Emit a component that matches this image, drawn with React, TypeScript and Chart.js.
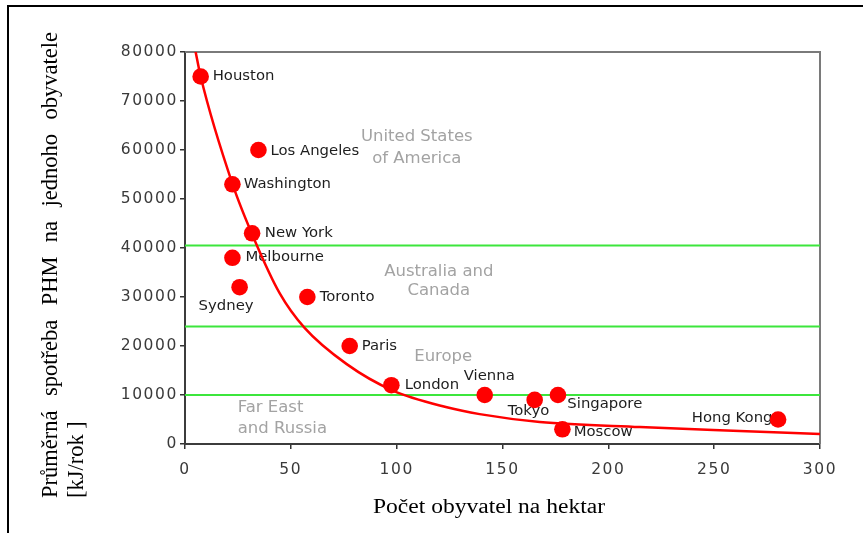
import React, { useEffect, useRef } from "react";
import { Chart, registerables } from "chart.js";

Chart.register(...registerables);

// ---- data ----
const CITIES = [
  "Houston", "Los Angeles", "Washington", "New York", "Melbourne", "Sydney", "Toronto",
  "Paris", "London", "Vienna", "Tokyo", "Singapore", "Moscow", "Hong Kong",
];
const DENSITY = [7.4, 34.7, 22.4, 31.7, 22.4, 25.8, 57.8, 77.8, 97.5, 141.6, 165.2, 176.2, 178.3, 280.2];
const ENERGY = [75000, 60000, 53000, 43000, 38000, 32000, 30000, 20000, 12000, 10000, 9000, 10000, 3000, 5000];

const CURVE_X = [4.8, 7.4, 22.5, 32.9, 44.7, 56.5, 76.4, 98.2, 123.7, 139.2, 167.6, 214.9, 262.1, 300];
const CURVE_Y = [80500, 75000, 53000, 41600, 30800, 23700, 16300, 10900, 7500, 6100, 4500, 3450, 2650, 2040];

const BAND_LIMITS = [40500, 24000, 10000];

const X_MIN = 0, X_MAX = 300, X_STEP = 50;
const Y_MIN = 0, Y_MAX = 80000, Y_STEP = 10000;

const REGIONS = [
  ["United States", "of America"],
  ["Australia and", "Canada"],
  ["Europe"],
  ["Far East", "and Russia"],
];
const REGION_X = [109.5, 119.9, 122.0, 24.9];
const REGION_Y = [62650, 35160, 17750, 7350];

const Y_TITLE_WORDS = ["Průměrná", "spotřeba", "PHM", "na", "jednoho", "obyvatele"];
const Y_TITLE_UNIT = "[kJ/rok ]";
const X_TITLE = "Počet obyvatel na hektar";

// ---- label placement (styling) ----
const LABEL_OFFSETS: [number, number, CanvasTextAlign][] = [
  [12, 0, "left"], [12, 1, "left"], [11.3, 0, "left"], [12.7, 0, "left"], [13, 0, "left"],
  [-41, 19, "left"], [12.3, 0, "left"], [12, 0, "left"], [13.3, 0, "left"], [-21, -18.3, "left"],
  [-27, 11.7, "left"], [9.4, 9, "left"], [11.3, 2.7, "left"], [-5.6, -1, "right"],
];
const REGION_ALIGN: CanvasTextAlign[] = ["center", "center", "center", "left"];
const REGION_LINE_GAP = [22, 19.5, 0, 21];

const framePlugin = {
  id: "frame",
  beforeDraw(chart: any) {
    chart.ctx.save();
    chart.ctx.letterSpacing = "1.6px";
  },
  beforeDatasetsDraw(chart: any) {
    const ctx: CanvasRenderingContext2D = chart.ctx;
    ctx.restore();
    ctx.save();
    ctx.letterSpacing = "0px";
    const { left, right, top, bottom } = chart.chartArea;
    const xs = chart.scales.x;
    const ys = chart.scales.y;

    // top & right frame
    ctx.strokeStyle = "#7a7a7a";
    ctx.lineWidth = 2;
    ctx.beginPath();
    ctx.moveTo(left, top);
    ctx.lineTo(right, top);
    ctx.lineTo(right, bottom);
    ctx.stroke();

    // region labels
    ctx.font = "16.5px 'DejaVu Sans'";
    ctx.fillStyle = "#a3a3a3";
    ctx.textBaseline = "middle";
    REGIONS.forEach((lines, i) => {
      const px = xs.getPixelForValue(REGION_X[i]);
      const py = ys.getPixelForValue(REGION_Y[i]);
      ctx.textAlign = REGION_ALIGN[i];
      lines.forEach((t, j) => ctx.fillText(t, px, py + j * REGION_LINE_GAP[i]));
    });

    // city labels
    ctx.font = "13.5px 'DejaVu Sans'";
    ctx.fillStyle = "#1e1e1e";
    CITIES.forEach((name, i) => {
      const px = xs.getPixelForValue(DENSITY[i]);
      const py = ys.getPixelForValue(ENERGY[i]);
      const [dx, dy, al] = LABEL_OFFSETS[i];
      ctx.save();
      ctx.translate(px + dx, py + dy);
      ctx.scale(1.1, 1);
      ctx.textAlign = al;
      ctx.fillText(name, 0, 0);
      ctx.restore();
    });

    // axis titles
    ctx.fillStyle = "#000";
    ctx.textAlign = "left";
    ctx.textBaseline = "alphabetic";
    ctx.font = "20px 'Liberation Serif'";
    const xw = ctx.measureText(X_TITLE).width;
    ctx.save();
    ctx.translate(373, 513);
    ctx.scale(232 / xw, 1);
    ctx.fillText(X_TITLE, 0, 0);
    ctx.restore();

    ctx.font = "22.5px 'Liberation Serif'";
    const widths = Y_TITLE_WORDS.map((w) => ctx.measureText(w).width);
    const total = widths.reduce((a, b) => a + b, 0);
    const span = 466;
    const gap = (span - total) / (Y_TITLE_WORDS.length - 1);
    ctx.save();
    ctx.translate(57, 498);
    ctx.rotate(-Math.PI / 2);
    let u = 0;
    Y_TITLE_WORDS.forEach((w, i) => {
      ctx.fillText(w, u, 0);
      u += widths[i] + gap;
    });
    ctx.restore();
    ctx.save();
    ctx.translate(83, 498);
    ctx.rotate(-Math.PI / 2);
    ctx.fillText(Y_TITLE_UNIT, 0, 0);
    ctx.restore();

    ctx.restore();
  },
};

export default function App() {
  const ref = useRef<HTMLCanvasElement | null>(null);

  useEffect(() => {
    if (!ref.current) return;
    const tickFont = { family: "'DejaVu Sans'", size: 15.5 };
    const chart = new Chart(ref.current, {
      type: "scatter",
      data: {
        datasets: [
          {
            label: "cities",
            data: DENSITY.map((x, i) => ({ x, y: ENERGY[i] })),
            pointRadius: 8.3,
            pointBackgroundColor: "#ff0000",
            pointBorderWidth: 0,
            showLine: false,
          } as any,
          {
            label: "trend",
            type: "line",
            data: CURVE_X.map((x, i) => ({ x, y: CURVE_Y[i] })),
            borderColor: "#ff0000",
            borderWidth: 2.5,
            pointRadius: 0,
            cubicInterpolationMode: "monotone",
            fill: false,
          } as any,
          ...BAND_LIMITS.map((v) => ({
            label: "band",
            type: "line",
            data: [{ x: X_MIN, y: v }, { x: X_MAX, y: v }],
            borderColor: "#3ce63c",
            borderWidth: 2,
            pointRadius: 0,
            fill: false,
          } as any)),
        ],
      },
      options: {
        animation: false,
        responsive: false,
        events: [],
        layout: { padding: { left: 0, right: 43, top: 52, bottom: 0 } },
        plugins: { legend: { display: false }, tooltip: { enabled: false } },
        scales: {
          x: {
            type: "linear",
            min: X_MIN,
            max: X_MAX,
            ticks: {
              stepSize: X_STEP,
              color: "#3a3a3a",
              font: tickFont,
              padding: 12,
              maxRotation: 0,
              callback: (v: any) => String(v),
            },
            grid: { drawOnChartArea: false, drawTicks: true, tickLength: 5, color: "#333", lineWidth: 1.5 },
            border: { color: "#3c3c3c", width: 2 },
            afterFit: (s: any) => { s.height = 89; },
          },
          y: {
            type: "linear",
            min: Y_MIN,
            max: Y_MAX,
            ticks: {
              stepSize: Y_STEP,
              color: "#3a3a3a",
              font: tickFont,
              padding: 2,
              callback: (v: any) => String(v),
            },
            grid: { drawOnChartArea: false, drawTicks: true, tickLength: 5, color: "#333", lineWidth: 1.5 },
            border: { color: "#3c3c3c", width: 2 },
            afterFit: (s: any) => { s.width = 185; },
          },
        },
      },
      plugins: [framePlugin],
    });
    return () => chart.destroy();
  }, []);

  return (
    <div style={{ position: "fixed", left: 0, top: 0, width: 863, height: 533, background: "#fff" }}>
      <canvas ref={ref} width={863} height={533} style={{ display: "block" }} />
      <div style={{ position: "absolute", left: 6.7, top: 4.7, width: 2, height: 533, background: "#000" }} />
      <div style={{ position: "absolute", left: 6.7, top: 4.7, width: 863, height: 2, background: "#000" }} />
    </div>
  );
}
